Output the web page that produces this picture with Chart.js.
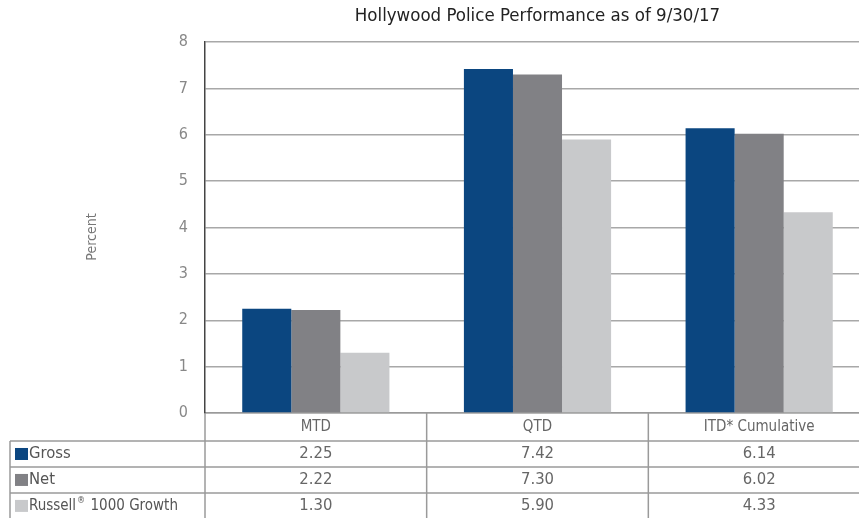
<!DOCTYPE html>
<html><head><meta charset="utf-8">
<script src="https://cdn.jsdelivr.net/npm/chart.js@4/dist/chart.umd.min.js"></script>
<style>
html,body{margin:0;padding:0;background:#fff;overflow:hidden;width:859px;height:518px}
#wrap{width:859px;height:518px;overflow:hidden;position:relative}
canvas{display:block}
</style></head>
<body><div id="wrap"><canvas id="c" width="870" height="518" style="width:870px;height:518px"></canvas></div>
<script>
const TITLE = 'Hollywood Police Performance as of 9/30/17';
const Y_TITLE = 'Percent';
const CATEGORIES = ['MTD', 'QTD', 'ITD* Cumulative'];
const SERIES_NAMES = ['Gross', 'Net', 'Russell® 1000 Growth'];
const GROSS = [2.25, 7.42, 6.14];
const NET = [2.22, 7.30, 6.02];
const RUSSELL = [1.30, 5.90, 4.33];
const Y_MIN = 0, Y_MAX = 8, Y_STEP = 1;
const COLORS = ['#0b4680', '#818185', '#c8c9cb'];
const FONT = "'Liberation Sans Narrow','DejaVu Sans Condensed','Liberation Sans',sans-serif";

const SERIES = [GROSS, NET, RUSSELL];

const tablePlugin = {
  id: 'tablePlugin',
  afterDraw(chart) {
    const ctx = chart.ctx;
    const a = chart.chartArea;
    const xs = chart.scales.x;
    const H = chart.height, W = chart.width;
    ctx.save();
    ctx.font = `18.5px ${FONT}`;
    ctx.fillStyle = '#222';
    ctx.textAlign = 'center';
    ctx.textBaseline = 'middle';
    ctx.fillText(TITLE, (a.left + a.right) / 2, 16);
    ctx.save();
    ctx.translate(92, 237);
    ctx.rotate(-Math.PI / 2);
    ctx.font = `14px ${FONT}`;
    ctx.fillStyle = '#777';
    ctx.fillText(Y_TITLE, 0, 0);
    ctx.restore();

    const rowTop0 = a.bottom + 28;
    const rowH = (H - rowTop0) / SERIES.length + 0.3;
    ctx.strokeStyle = '#9a9a9a';
    ctx.lineWidth = 1.5;
    ctx.beginPath();
    const n = CATEGORIES.length;
    const bounds = [a.left];
    for (let i = 0; i < n - 1; i++) {
      bounds.push((xs.getPixelForValue(i) + xs.getPixelForValue(i + 1)) / 2);
    }
    bounds.forEach(bx => { ctx.moveTo(bx, a.bottom); ctx.lineTo(bx, H); });
    ctx.moveTo(10, rowTop0); ctx.lineTo(10, H);
    for (let r = 0; r < SERIES.length; r++) {
      const y = rowTop0 + r * rowH;
      ctx.moveTo(10, y); ctx.lineTo(W, y);
    }
    ctx.stroke();

    ctx.textBaseline = 'middle';
    for (let r = 0; r < SERIES.length; r++) {
      const yc = rowTop0 + r * rowH + rowH / 2;
      ctx.fillStyle = COLORS[r];
      ctx.fillRect(15, yc - 6, 13, 12);
      ctx.fillStyle = '#555';
      ctx.textAlign = 'left';
      const name = SERIES_NAMES[r];
      const parts = name.split('®');
      const sz = parts.length > 1 ? 15 : 16.5;
      ctx.font = `${sz}px ${FONT}`;
      let x = 29;
      ctx.fillText(parts[0], x, yc);
      if (parts.length > 1) {
        x += ctx.measureText(parts[0]).width;
        ctx.font = `9px ${FONT}`;
        ctx.fillText('®', x + 1, yc - 5);
        x += ctx.measureText('®').width + 2;
        ctx.font = `${sz}px ${FONT}`;
        ctx.fillText(parts[1], x, yc);
      }
      ctx.textAlign = 'center';
      ctx.fillStyle = '#666';
      ctx.font = `16.5px ${FONT}`;
      for (let i = 0; i < n; i++) {
        ctx.fillText(SERIES[r][i].toFixed(2), xs.getPixelForValue(i), yc);
      }
    }
    ctx.restore();
  }
};

new Chart(document.getElementById('c'), {
  type: 'bar',
  data: {
    labels: CATEGORIES,
    datasets: SERIES.map((d, i) => ({
      label: SERIES_NAMES[i],
      data: d,
      backgroundColor: COLORS[i],
      borderWidth: 0,
      categoryPercentage: 0.664,
      barPercentage: 1.0
    }))
  },
  options: {
    responsive: false,
    animation: false,
    layout: { padding: { top: 42, left: 0, right: 0, bottom: 0 } },
    plugins: { legend: { display: false }, tooltip: { enabled: false }, title: { display: false } },
    scales: {
      x: {
        offset: true,
        grid: { display: false, drawTicks: false },
        border: { color: '#9a9a9a', width: 1.5 },
        ticks: { color: '#666', font: { family: FONT, size: 15 }, padding: 5, maxRotation: 0 },
        afterFit(s) { s.height = 105; }
      },
      y: {
        min: Y_MIN, max: Y_MAX,
        ticks: { stepSize: Y_STEP, color: '#888', font: { family: FONT, size: 16 }, padding: 17 },
        grid: { color: '#a8a8a8', lineWidth: 1.5, drawTicks: false },
        border: { color: '#444', width: 1.5 },
        afterFit(s) { s.width = 205; }
      }
    }
  },
  plugins: [tablePlugin]
});
</script>
</body></html>
